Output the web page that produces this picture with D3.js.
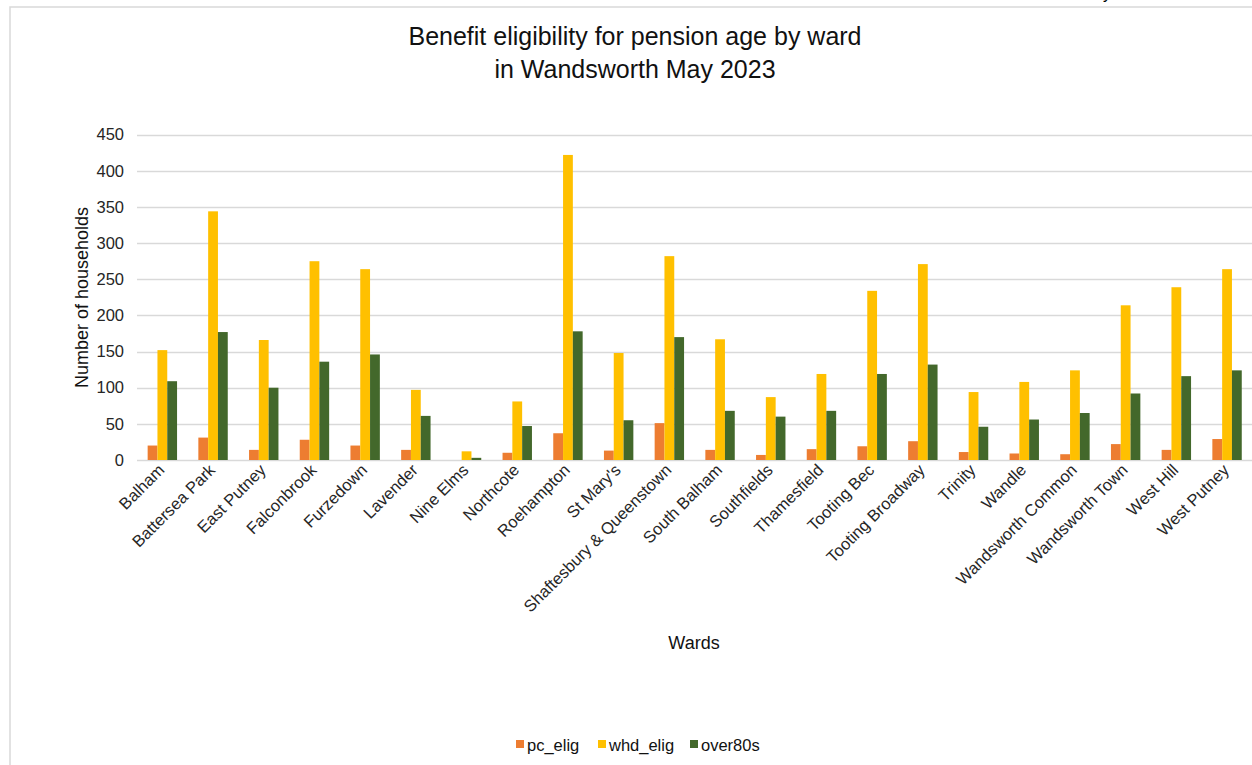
<!DOCTYPE html>
<html>
<head>
<meta charset="utf-8">
<script src="https://cdn.jsdelivr.net/npm/d3@7"></script>
<style>
  html, body { margin: 0; padding: 0; background: #fff; }
  svg { display: block; font-family: "Liberation Sans", Arial, sans-serif; }
</style>
</head>
<body>
<svg id="chart" width="1252" height="765"></svg>
<script>
const wards = ["Balham","Battersea Park","East Putney","Falconbrook","Furzedown","Lavender","Nine Elms","Northcote","Roehampton","St Mary's","Shaftesbury & Queenstown","South Balham","Southfields","Thamesfield","Tooting Bec","Tooting Broadway","Trinity","Wandle","Wandsworth Common","Wandsworth Town","West Hill","West Putney"];
const pc_elig  = [20, 31, 14, 28, 20, 14, 0, 10, 37, 13, 51, 14, 7, 15, 19, 26, 11, 9, 8, 22, 14, 29];
const whd_elig = [152, 344, 166, 275, 264, 97, 12, 81, 422, 148, 282, 167, 87, 119, 234, 271, 94, 108, 124, 214, 239, 264];
const over80s  = [109, 177, 100, 136, 146, 61, 3, 47, 178, 55, 170, 68, 60, 68, 119, 132, 46, 56, 65, 92, 116, 124];
const seriesNames = ["pc_elig", "whd_elig", "over80s"];
const seriesColors = ["#ED7D31", "#FFC000", "#43682B"];
const yTicks = [0, 50, 100, 150, 200, 250, 300, 350, 400, 450];
const titleLines = ["Benefit eligibility for pension age by ward", "in Wandsworth May 2023"];
const xTitle = "Wards";
const yTitle = "Number of households";

(function () {
const seriesData = [pc_elig, whd_elig, over80s];
const svg = d3.select("#chart");

// chart frame
svg.append("rect").attr("x", 10).attr("y", 7).attr("width", 1300).attr("height", 800)
  .attr("fill", "#fff").attr("stroke", "#d9d9d9").attr("stroke-width", 1.5);

// cut-off text fragment at top (as in the reference)
svg.append("text").attr("x", 1103).attr("y", -1).attr("font-size", 16).attr("fill", "#000").text("y");

const pL = 137, pR = 1252.4, pT = 134.7, pB = 460;
const x = d3.scaleBand().domain(wards).range([pL, pR]).paddingInner(0.42).paddingOuter(0.21);
const xs = d3.scaleBand().domain(seriesNames).range([0, x.bandwidth()]);
const y = d3.scaleLinear().domain([0, 450]).range([pB, pT]);

// gridlines
svg.append("g").selectAll("line").data(yTicks).join("line")
  .attr("x1", pL).attr("x2", pR)
  .attr("y1", d => Math.round(y(d)) + 0.5).attr("y2", d => Math.round(y(d)) + 0.5)
  .attr("stroke", "#d9d9d9").attr("stroke-width", 1.5);

// y axis labels
const yAxis = d3.axisLeft(y).tickValues(yTicks).tickSize(0).tickPadding(0);
const gy = svg.append("g").attr("transform", `translate(124,0)`).call(yAxis);
gy.select(".domain").remove();
gy.selectAll("text").attr("font-size", 16.5).attr("fill", "#262626")
  .attr("font-family", "Liberation Sans, Arial, sans-serif");

// bars
const groups = svg.append("g").selectAll("g").data(wards).join("g")
  .attr("transform", d => `translate(${x(d)},0)`);
groups.selectAll("rect").data((d, i) => seriesNames.map((s, k) => ({s, v: seriesData[k][i], k})))
  .join("rect")
  .attr("x", d => xs(d.s)).attr("width", xs.bandwidth())
  .attr("y", d => y(d.v)).attr("height", d => y(0) - y(d.v))
  .attr("fill", d => seriesColors[d.k]);

// x axis labels
const xAxis = d3.axisBottom(x).tickSize(0).tickPadding(0);
const gx = svg.append("g").attr("transform", `translate(0,${pB})`).call(xAxis);
gx.select(".domain").remove();
gx.selectAll("text")
  .attr("font-size", 16.5).attr("fill", "#262626")
  .attr("font-family", "Liberation Sans, Arial, sans-serif")
  .attr("text-anchor", "end")
  .attr("dy", "0.35em")
  .attr("transform", "translate(-1,7) rotate(-45)");

// titles
const t = svg.append("text").attr("text-anchor", "middle").attr("font-size", 25).attr("fill", "#111");
titleLines.forEach((l, i) => t.append("tspan").attr("x", 635).attr("y", 45 + i * 32.5).text(l));

svg.append("text").attr("x", 694).attr("y", 649).attr("text-anchor", "middle")
  .attr("font-size", 18).attr("fill", "#111").text(xTitle);

svg.append("text").attr("transform", `translate(88,297.5) rotate(-90)`).attr("text-anchor", "middle")
  .attr("font-size", 18).attr("fill", "#111").text(yTitle);

// legend
const legendItems = [{n: "pc_elig", x: 516}, {n: "whd_elig", x: 598}, {n: "over80s", x: 690}];
const lg = svg.append("g");
legendItems.forEach((it, i) => {
  lg.append("rect").attr("x", it.x).attr("y", 740).attr("width", 8).attr("height", 8).attr("fill", seriesColors[i]);
  lg.append("text").attr("x", it.x + 11).attr("y", 751).attr("font-size", 16.5).attr("fill", "#111").text(it.n);
});
})();
</script>
</body>
</html>
